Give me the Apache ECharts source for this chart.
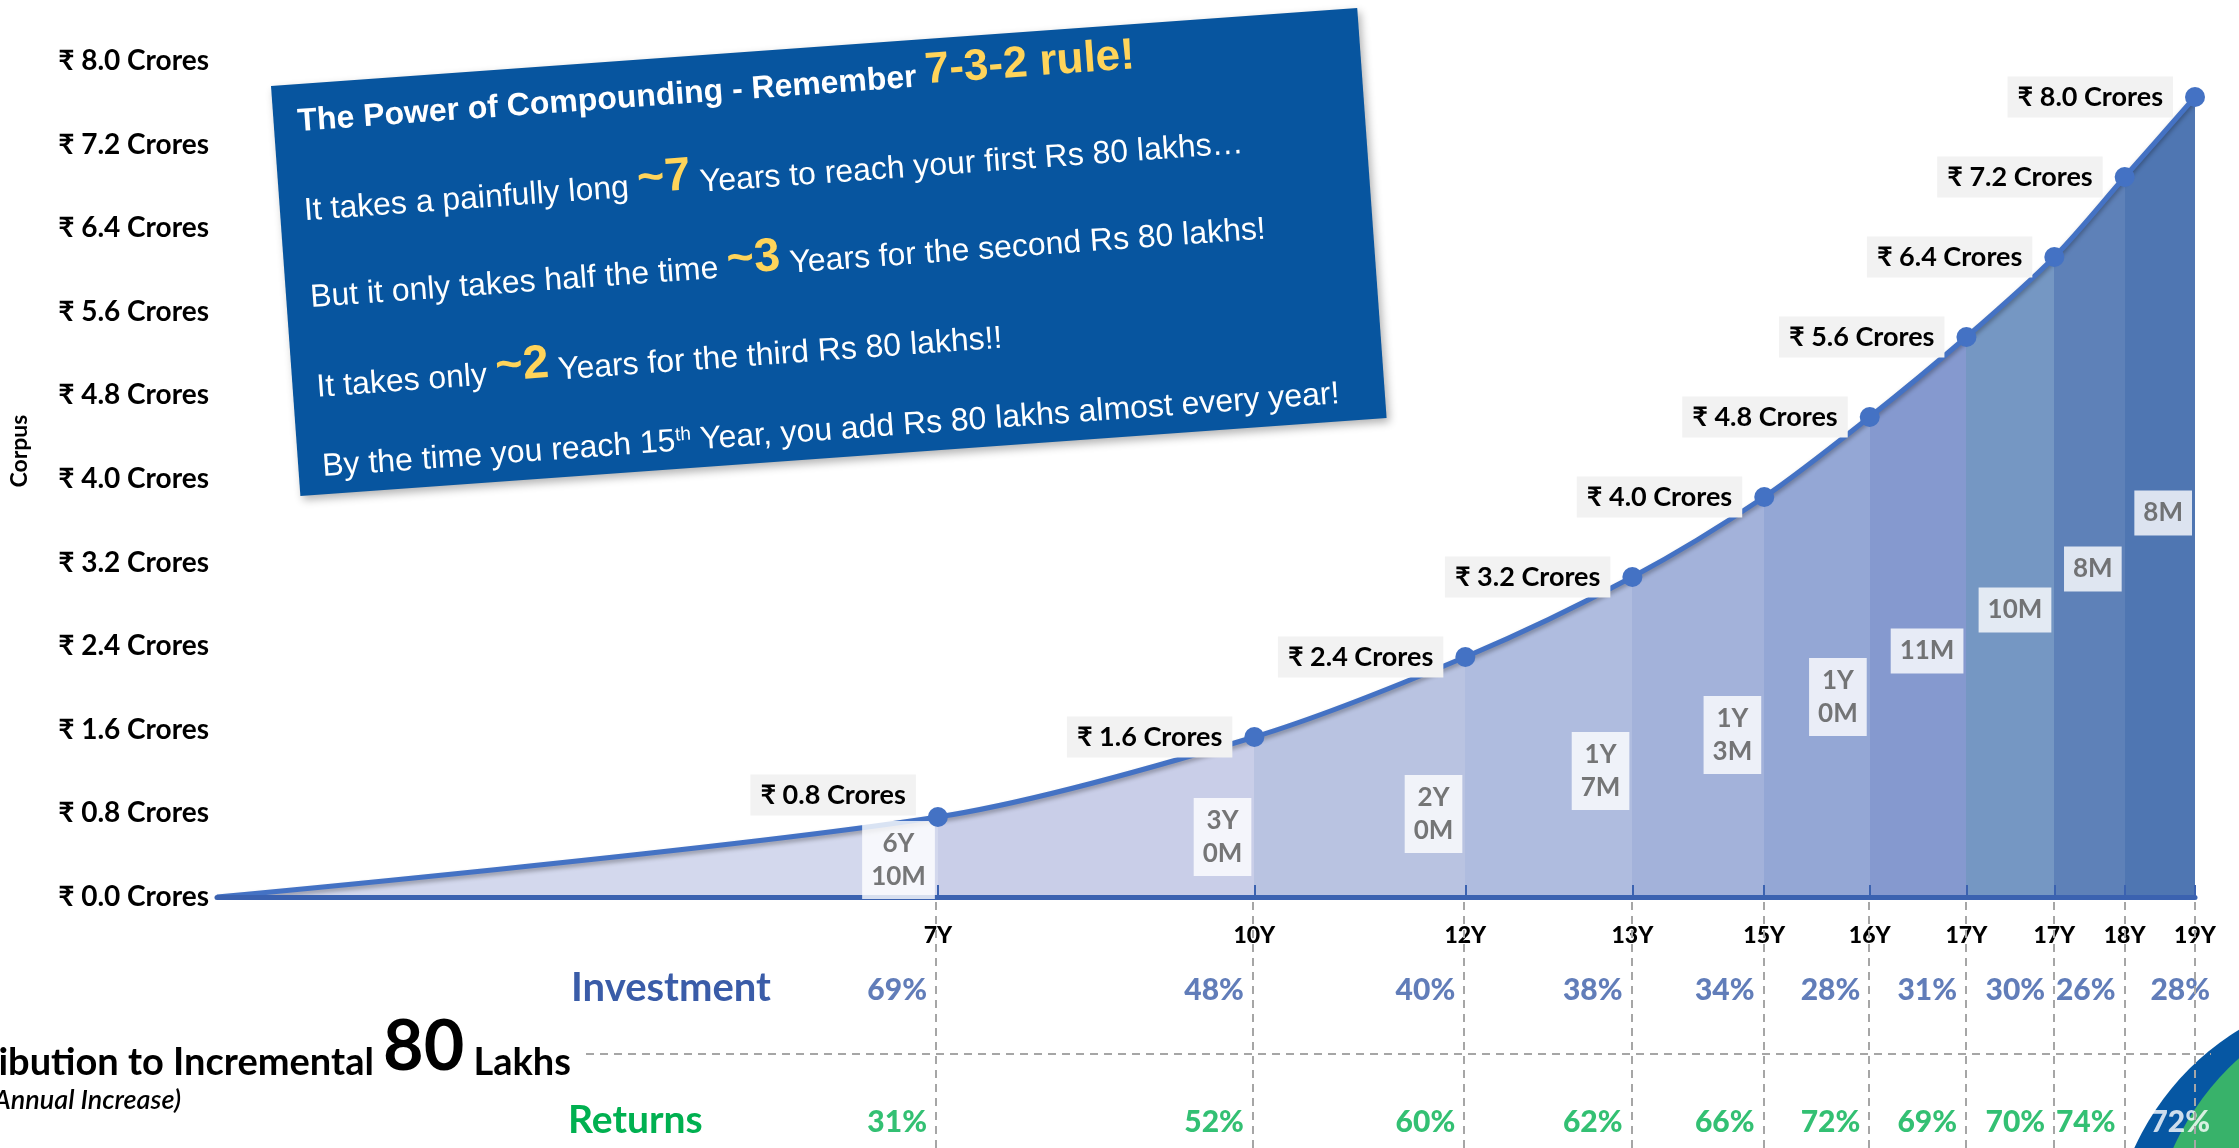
<!DOCTYPE html>
<html>
<head>
<meta charset="utf-8">
<title>The Power of Compounding</title>
<script src="https://cdn.jsdelivr.net/npm/echarts@6/dist/echarts.min.js"></script>
<style>
    html, body { margin: 0; padding: 0; background: #ffffff; }
    #chart { width: 2239px; height: 1148px; }
</style>
</head>
<body>
<div id="chart"></div>
<script>
// months from start at which each extra 80 lakhs is reached
var months = [0, 82, 118, 142, 161, 176, 188, 199, 209, 217, 225];
// corpus in crores at each milestone
var corpus = [0, 0.8, 1.6, 2.4, 3.2, 4.0, 4.8, 5.6, 6.4, 7.2, 8.0];
// x axis tick labels (one per milestone)
var yearLabels = ['7Y', '10Y', '12Y', '13Y', '15Y', '16Y', '17Y', '17Y', '18Y', '19Y'];
// time taken for each 80 lakhs
var durationLabels = ['6Y\n10M', '3Y\n0M', '2Y\n0M', '1Y\n7M', '1Y\n3M', '1Y\n0M', '11M', '10M', '8M', '8M'];
// share of each incremental 80 lakhs
var investmentPct = [69, 48, 40, 38, 34, 28, 31, 30, 26, 28];
var returnsPct = [31, 52, 60, 62, 66, 72, 69, 70, 74, 72];

// styles
var bandColors = ['#d3d8ed', '#c9cee8', '#b9c3e1', '#afbcdf', '#a3b2da', '#94a7d5', '#8599cf', '#7597c3', '#5e81b8', '#4f76b2'];
var durationLift = [37, 60, 83, 126, 162, 200, 246, 287, 328, 384];
var calibri = 'Lato, "Noto Sans", "DejaVu Sans", sans-serif';
var arial = '"Liberation Sans", Arial, "DejaVu Sans", sans-serif';
var lineBlue = '#4472c4';
var durFont = 'bold 26px ' + calibri;
var durPadX = 9;

var chart = echarts.init(document.getElementById('chart'));

// 用来量文字宽度, 让白色小框贴着右边的竖线
var measureCtx = document.createElement('canvas').getContext('2d');
measureCtx.font = durFont;
function textWidth(s) {
    var w = 0;
    s.split('\n').forEach(function (line) {
        w = Math.max(w, measureCtx.measureText(line).width);
    });
    return w;
}

// bands of the area, one per milestone interval
var pieces = [];
for (var i = 0; i < bandColors.length; i++) {
    var p = {gte: months[i], color: bandColors[i]};
    if (i === bandColors.length - 1) {
        p.lte = months[i + 1];
    } else {
        p.lt = months[i + 1];
    }
    pieces.push(p);
}

var growthData = months.map(function (m, i) { return [m, corpus[i]]; });

var milestoneData = [];
var durationData = [];
var investmentData = [];
var returnsData = [];
var last = months.length - 1;
for (var k = 1; k < months.length; k++) {
    var item = {value: [months[k], corpus[k]]};
    if (k === 1) {
        item.label = {offset: [0, -22]};
    }
    milestoneData.push(item);

    var dw = textWidth(durationLabels[k - 1]);
    durationData.push({
        value: [months[k], 0],
        label: {offset: [-(dw / 2 + durPadX), -durationLift[k - 1]]}
    });

    var inv = {value: [months[k], 0.63]};
    var r = {value: [months[k], 0.104]};
    if (k === last) {
        inv.label = {offset: [24, 0]};
        r.label = {offset: [24, 0], color: '#ffffff'};
    }
    investmentData.push(inv);
    returnsData.push(r);
}

function boxLine(x, y, text) {
    return {
        type: 'text',
        x: x,
        y: y,
        style: {
            text: text,
            textVerticalAlign: 'middle',
            rich: {
                w: {fill: '#ffffff', fontSize: 32, fontFamily: arial, verticalAlign: 'bottom'},
                t: {fill: '#ffffff', fontSize: 32, fontWeight: 'bold', fontFamily: arial, verticalAlign: 'bottom'},
                y: {fill: '#ffd45a', fontSize: 47, fontWeight: 'bold', fontFamily: arial, verticalAlign: 'bottom'},
                h: {fill: '#ffd45a', fontSize: 44, fontWeight: 'bold', fontFamily: arial, verticalAlign: 'bottom'},
                s: {fill: '#ffffff', fontSize: 19, fontFamily: arial, verticalAlign: 'top'}
            }
        }
    };
}

var option = {
    backgroundColor: '#ffffff',
    animation: false,
    textStyle: {fontFamily: calibri},
    grid: [
        {left: 214, right: 44, top: 61, bottom: 251},
        {left: 214, right: 44, top: 897, bottom: 0}
    ],
    visualMap: {
        show: false,
        type: 'piecewise',
        dimension: 0,
        seriesIndex: 0,
        pieces: pieces
    },
    xAxis: [
        {
            gridIndex: 0,
            type: 'value',
            min: 0,
            max: 225,
            z: 4,
            splitLine: {show: false},
            axisLine: {lineStyle: {color: '#3b62b0', width: 5}},
            axisTick: {
                show: true,
                customValues: months.slice(1),
                inside: true,
                length: 12,
                lineStyle: {color: '#3b62b0', width: 2}
            },
            axisLabel: {
                customValues: months.slice(1),
                margin: 27,
                color: '#000000',
                fontWeight: 900,
                fontSize: 23,
                fontFamily: calibri,
                formatter: function (v) {
                    var idx = months.indexOf(v);
                    return idx > 0 ? yearLabels[idx - 1] : '';
                }
            }
        },
        {gridIndex: 1, type: 'value', min: 0, max: 225, show: false}
    ],
    yAxis: [
        {
            gridIndex: 0,
            type: 'value',
            min: 0,
            max: 8,
            interval: 0.8,
            splitLine: {show: false},
            axisLine: {show: false},
            axisTick: {show: false},
            axisLabel: {
                margin: 8,
                color: '#000000',
                fontWeight: 'bold',
                fontSize: 28,
                fontFamily: calibri,
                formatter: function (v) { return '₹ ' + v.toFixed(1) + ' Crores'; }
            },
            name: 'Corpus',
            nameLocation: 'middle',
            nameGap: 186,
            nameTextStyle: {
                color: '#000000',
                fontWeight: 'bold',
                fontSize: 23,
                fontFamily: calibri,
                padding: [0, 0, 0, 56]
            }
        },
        {gridIndex: 0, type: 'value', min: 0, max: 8.36, show: false},
        {gridIndex: 1, type: 'value', min: 0, max: 1, show: false}
    ],
    series: [
        {
            name: 'Corpus growth',
            type: 'line',
            xAxisIndex: 0,
            yAxisIndex: 1,
            data: growthData,
            smooth: 0.3,
            symbol: 'none',
            lineStyle: {
                color: lineBlue,
                width: 5,
                shadowColor: 'rgba(0,0,0,0.3)',
                shadowBlur: 4,
                shadowOffsetY: 3
            },
            areaStyle: {opacity: 1},
            z: 2
        },
        {
            name: 'Milestones',
            type: 'scatter',
            xAxisIndex: 0,
            yAxisIndex: 1,
            data: milestoneData,
            symbolSize: 20,
            itemStyle: {color: lineBlue, opacity: 1},
            label: {
                show: true,
                position: 'left',
                distance: 12,
                formatter: function (p) { return '₹ ' + p.value[1].toFixed(1) + ' Crores'; },
                backgroundColor: '#f2f2f2',
                padding: [7, 10],
                color: '#000000',
                fontWeight: 'bold',
                fontSize: 27,
                fontFamily: calibri
            },
            z: 5
        },
        {
            name: 'Duration',
            type: 'scatter',
            xAxisIndex: 0,
            yAxisIndex: 1,
            data: durationData,
            symbolSize: 0,
            silent: true,
            label: {
                show: true,
                position: 'left',
                distance: 3,
                formatter: function (p) { return durationLabels[p.dataIndex]; },
                backgroundColor: '#ffffff',
                padding: [6, durPadX],
                align: 'center',
                lineHeight: 33,
                color: '#555555',
                fontWeight: 'bold',
                fontSize: 26,
                fontFamily: calibri
            },
            z: 4
        },
        {
            name: 'Investment',
            type: 'scatter',
            xAxisIndex: 1,
            yAxisIndex: 2,
            data: investmentData,
            symbolSize: 0,
            silent: true,
            label: {
                show: true,
                position: 'left',
                distance: 9,
                formatter: function (p) { return investmentPct[p.dataIndex] + '%'; },
                color: '#3a5ca8',
                fontWeight: 900,
                fontSize: 30,
                fontFamily: calibri
            },
            markLine: {
                silent: true,
                symbol: ['none', 'none'],
                label: {show: false},
                lineStyle: {color: '#a6a6a6', width: 2, type: [8, 6]},
                data: months.slice(1).map(function (m) { return {xAxis: m}; })
            },
            z: 4
        },
        {
            name: 'Returns',
            type: 'scatter',
            xAxisIndex: 1,
            yAxisIndex: 2,
            data: returnsData,
            symbolSize: 0,
            silent: true,
            label: {
                show: true,
                position: 'left',
                distance: 9,
                formatter: function (p) { return returnsPct[p.dataIndex] + '%'; },
                color: '#00b050',
                fontWeight: 900,
                fontSize: 30,
                fontFamily: calibri
            },
            z: 4
        }
    ],
    graphic: {
        elements: [
            // decorative badge bottom right
            {type: 'circle', z: 0, silent: true, shape: {cx: 2380, cy: 1260, r: 270}, style: {fill: '#0657a3'}},
            {type: 'circle', z: 0, silent: true, shape: {cx: 2420, cy: 1260, r: 271}, style: {fill: '#38b26a'}},
            // table divider
            {
                type: 'line', silent: true,
                shape: {x1: 586, y1: 1054, x2: 2211, y2: 1054},
                style: {stroke: '#a6a6a6', lineWidth: 2, lineDash: [8, 6]}
            },
            {
                type: 'text', x: 571, y: 988,
                style: {text: 'Investment', fill: '#3a5ca8', font: 'bold 40px ' + calibri, textVerticalAlign: 'middle'}
            },
            {
                type: 'text', x: 568, y: 1120,
                style: {text: 'Returns', fill: '#00b050', font: 'bold 39px ' + calibri, textVerticalAlign: 'middle'}
            },
            {
                type: 'text', x: 571, y: 1047,
                style: {
                    text: '{a|Contribution to Incremental }{b|80}{a| Lakhs}',
                    textAlign: 'right',
                    textVerticalAlign: 'middle',
                    rich: {
                        a: {fill: '#000000', fontSize: 38, fontWeight: 'bold', fontFamily: calibri, verticalAlign: 'bottom'},
                        b: {fill: '#000000', fontSize: 70, fontWeight: 'bold', fontFamily: calibri, verticalAlign: 'bottom'}
                    }
                }
            },
            {
                type: 'text', x: 181, y: 1100,
                style: {
                    text: '(Assuming 10% Annual Increase)',
                    fill: '#000000',
                    font: 'italic 600 27px ' + calibri,
                    textAlign: 'right',
                    textVerticalAlign: 'middle'
                }
            },
            // the tilted note
            {
                type: 'group',
                x: 271,
                y: 86,
                rotation: 0.0716,
                z: 10,
                children: [
                    {
                        type: 'rect',
                        shape: {x: 0, y: 0, width: 1089, height: 411},
                        style: {
                            fill: '#07559f',
                            shadowColor: 'rgba(0,0,0,0.3)',
                            shadowBlur: 8,
                            shadowOffsetX: 3,
                            shadowOffsetY: 4
                        }
                    },
                    boxLine(24, 32, '{t|The Power of Compounding - Remember }{h|7-3-2 rule!}'),
                    boxLine(24, 120, '{w|It takes a painfully long }{y|~7}{w| Years to reach your first Rs 80 lakhs…}'),
                    boxLine(24, 207, '{w|But it only takes half the time }{y|~3}{w| Years for the second Rs 80 lakhs!}'),
                    boxLine(24, 297, '{w|It takes only }{y|~2}{w| Years for the third Rs 80 lakhs!!}'),
                    boxLine(24, 384, '{w|By the time you reach 15}{s|th}{w| Year, you add Rs 80 lakhs almost every year!}')
                ]
            }
        ]
    }
};

chart.setOption(option);
</script>
</body>
</html>
